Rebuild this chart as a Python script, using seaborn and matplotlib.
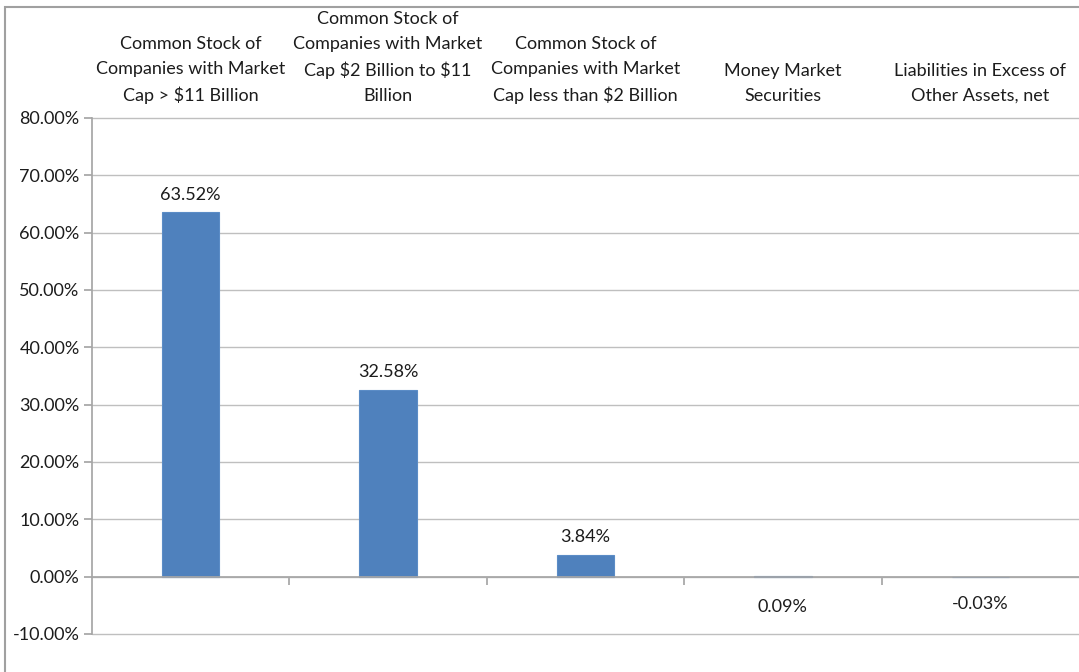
import matplotlib
matplotlib.use("Agg")
import matplotlib.pyplot as plt
import matplotlib.transforms as mtransforms
from matplotlib.patches import Rectangle
import seaborn as sns
import numpy as np

categories = [
    "Common Stock of\nCompanies with Market\nCap > \\$11 Billion",
    "Common Stock of\nCompanies with Market\nCap \\$2 Billion to \\$11\nBillion",
    "Common Stock of\nCompanies with Market\nCap less than \\$2 Billion",
    "Money Market\nSecurities",
    "Liabilities in Excess of\nOther Assets, net",
]
values = [63.52, 32.58, 3.84, 0.09, -0.03]
value_labels = ["63.52%", "32.58%", "3.84%", "0.09%", "-0.03%"]
yticks = [-10, 0, 10, 20, 30, 40, 50, 60, 70, 80]

sns.set_theme(style="white")
plt.rcParams["font.family"] = ["Lato", "DejaVu Sans"]
text_color = "#1c1c1c"

fig = plt.figure(figsize=(10.79, 6.72), dpi=100)
ax = fig.add_axes([92 / 1079, 1 - 634 / 672, 1 - 92 / 1079, (634 - 118) / 672])

sns.barplot(x=list(range(len(values))), y=values, color="#4F81BD", width=0.29,
            saturation=1, edgecolor="#5B8CC6", linewidth=0.8, ax=ax, zorder=3)

ax.set_xlim(-0.5, len(values) - 0.5)
ax.set_ylim(-10, 80)
ax.set_yticks(yticks)
ax.set_yticklabels([f"{t:.2f}%" for t in yticks], fontsize=13, color=text_color)
ax.yaxis.grid(True, color="#BFBFBF", linewidth=1.0, zorder=0)
ax.xaxis.grid(False)
for gl in ax.get_ygridlines():
    gl.set_clip_on(False)

for s in ["top", "right"]:
    ax.spines[s].set_visible(False)
ax.spines["left"].set_color("#A6A6A6")
ax.spines["bottom"].set_color("#A6A6A6")
ax.spines["bottom"].set_position(("data", 0))
ax.spines["bottom"].set_zorder(4)
ax.tick_params(axis="y", which="major", length=6, color="#A6A6A6", left=True, pad=3)

# category boundary ticks on the zero axis
ax.set_xticks([0.5, 1.5, 2.5, 3.5])
ax.set_xticklabels([])
ax.tick_params(axis="x", which="major", length=6, color="#A6A6A6", bottom=True, direction="out")

# category labels above the plot area
trans = mtransforms.blended_transform_factory(ax.transData, ax.transAxes) + \
    mtransforms.ScaledTranslation(0, 14 / 100, fig.dpi_scale_trans)
for i, c in enumerate(categories):
    ax.text(i, 1.0, c, transform=trans, ha="center", va="bottom", fontsize=13,
            color=text_color, linespacing=1.68)

# value labels
for i, (v, lab) in enumerate(zip(values, value_labels)):
    if abs(v) >= 1:
        ax.annotate(lab, (i, v), xytext=(0, 7), textcoords="offset points",
                    ha="center", va="bottom", fontsize=13, color=text_color)
    else:
        ax.annotate(lab, (i, 0), xytext=(0, -14 if v < 0 else -16), textcoords="offset points",
                    ha="center", va="top", fontsize=13, color=text_color)

# outer chart border
fig.add_artist(Rectangle((5 / 1079, -0.05), 1.2, 1 - 7 / 672 + 0.05,
                         transform=fig.transFigure, fill=False,
                         edgecolor="#A0A0A0", linewidth=1.5))

fig.savefig("out.png", dpi=100)
